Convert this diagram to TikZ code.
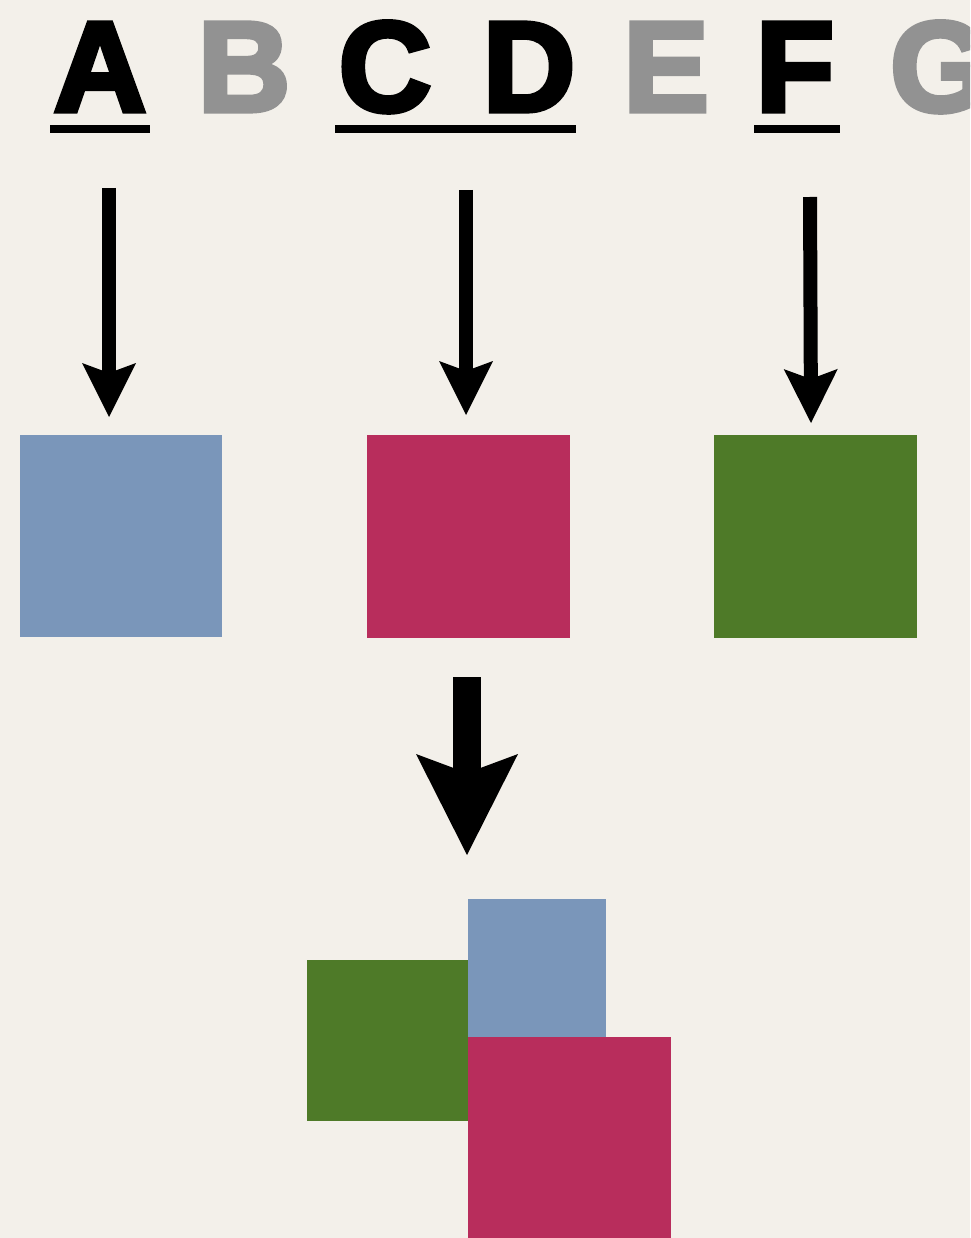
\documentclass[tikz,border=0pt]{standalone}
\usepackage{fontspec}
\newfontfamily\heavy[FakeBold=4]{Liberation Sans Bold}
\usetikzlibrary{arrows.meta}
\definecolor{bg}{HTML}{F3F0EA}
\definecolor{lettergray}{HTML}{929292}
\definecolor{cblue}{HTML}{7A96BA}
\definecolor{cred}{HTML}{B82D5C}
\definecolor{cgreen}{HTML}{4E7A28}
\begin{document}
\begin{tikzpicture}[x=1pt,y=-1pt,
  letter/.style={anchor=base, inner sep=0pt, font=\heavy\fontsize{128}{128}\selectfont},
  on/.style={letter, text=black},
  off/.style={letter, text=lettergray},
  uline/.style={fill=black},
  sq/.style={inner sep=0pt, outer sep=0pt, minimum width=#1pt, minimum height=#1pt, anchor=north west},
  thinarrow/.style={line width=14pt, -{Stealth[length=54pt, width=54pt, inset=10pt, line width=0pt]}},
  bigarrow/.style={line width=28pt, -{Stealth[length=101pt, width=102pt, inset=19pt, line width=0pt]}}
]
\useasboundingbox (0,0) rectangle (970,1238);
\clip (0,0) rectangle (970,1238);
\fill[bg] (0,0) rectangle (970,1238);

% letters
\node[on]  (A) at (100,111) {A};
\node[off] (B) at (244,111) {B};
\node[on]  (C) at (385,111) {C};
\node[on]  (D) at (529,111) {D};
\node[off] (E) at (666,111) {E};
\node[on]  (F) at (795,111) {F};
\node[off] (G) at (940,111) {G};

% underlines
\fill[uline] (50,125) rectangle (150,133);
\fill[uline] (335,125) rectangle (576,133);
\fill[uline] (754,125) rectangle (840,133);

% top squares
\node[sq=202, fill=cblue]  (boxA)  at (20,435) {};
\node[sq=203, fill=cred]   (boxCD) at (367,435) {};
\node[sq=203, fill=cgreen] (boxF)  at (714,435) {};

% thin arrows
\coordinate (a1s) at (109,188);
\coordinate (a1e) at (109,417);
\coordinate (a2s) at (466,190);
\coordinate (a2e) at (466,415);
\coordinate (a3s) at (810,197);
\coordinate (a3e) at (811,423);
\draw[thinarrow] (a1s) -- (a1e);
\draw[thinarrow] (a2s) -- (a2e);
\draw[thinarrow] (a3s) -- (a3e);

% big arrow
\coordinate (bs) at (467,677);
\coordinate (be) at (467,855);
\draw[bigarrow] (bs) -- (be);

% combined squares
\node[sq=161, fill=cgreen] (mixF)  at (307,960) {};
\node[sq=138, fill=cblue]  (mixA)  at (468,899) {};
\node[sq=203, fill=cred]   (mixCD) at (468,1037) {};
\end{tikzpicture}
\end{document}
